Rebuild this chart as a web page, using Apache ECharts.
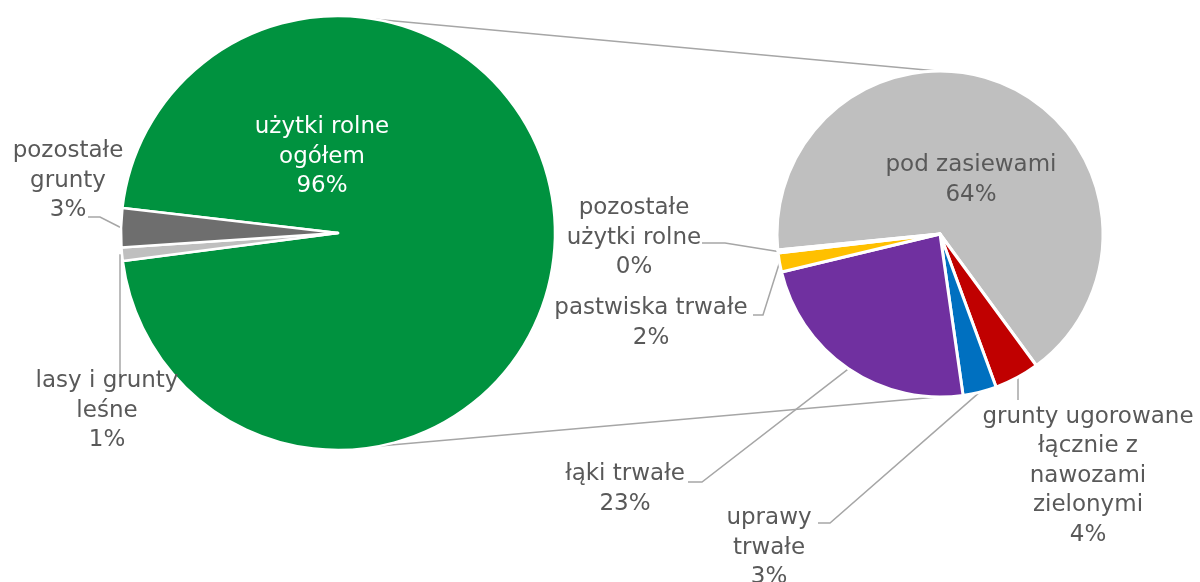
<!DOCTYPE html>
<html>
<head>
<meta charset="utf-8">
<script src="https://cdn.jsdelivr.net/npm/echarts@6/dist/echarts.min.js"></script>
<style>
html,body{margin:0;padding:0;background:#fff;}
#chart{width:1200px;height:582px;}
</style>
</head>
<body>
<div id="chart"></div>
<script>
// ---- data ----
const mainCategories = ['użytki rolne\nogółem', 'lasy i grunty\nleśne', 'pozostałe\ngrunty'];
const mainValues = [96.1, 1.0, 2.9];
const subCategories = ['pod zasiewami', 'grunty ugorowane\nłącznie z\nnawozami\nzielonymi', 'uprawy\ntrwałe', 'łąki trwałe', 'pastwiska trwałe', 'pozostałe\nużytki rolne'];
const subValues = [63.9, 4.3, 3.2, 22.6, 1.8, 0.3];

// ---- styling / layout ----
const mainColors = ['#00923f', '#bfbfbf', '#6e6e6e'];
const subColors = ['#bfbfbf', '#c00000', '#0070c0', '#7030a0', '#ffc000', '#a5a5a5'];
const C1 = [338, 233], R1 = 217;
const C2 = [940, 234], R2 = 163;
const FONT = 'DejaVu Sans';
const TXT = '#595959';
const LINE = '#a6a6a6';

// label block centres and leader-line tail points
const mainLabelPos = [
  {x: 322, y: 157, inside: true},
  {x: 107, y: 411, vertical: 120, line: [[120, 377]]},
  {x: 68, y: 181, line: [[100, 217], [88, 217]]}
];
const subLabelPos = [
  {x: 971, y: 180, inside: true},
  {x: 1088, y: 476, vertical: 1018, line: [[1018, 400]]},
  {x: 769, y: 548, line: [[830, 523], [818, 523]]},
  {x: 625, y: 489, line: [[702, 482], [688, 482]]},
  {x: 651, y: 323, line: [[763, 315], [753, 315]]},
  {x: 634, y: 238, line: [[725, 243], [702, 243]]}
];

function pct(v) { return Math.round(v) + '%'; }

function makeData(cats, vals, colors, pos, insideColor) {
  return cats.map(function (c, i) {
    const inside = pos[i].inside;
    return {
      name: c,
      value: vals[i],
      itemStyle: {color: colors[i]},
      label: {
        position: inside ? 'inside' : 'outside',
        color: inside ? insideColor : TXT
      },
      labelLine: {show: !inside}
    };
  });
}

function edgePoint(c, r, vals, startAngle, idx) {
  const total = vals.reduce(function (a, b) { return a + b; }, 0);
  let acc = 0;
  for (let i = 0; i < idx; i++) acc += vals[i];
  const mid = startAngle - (acc + vals[idx] / 2) / total * 360;
  const rad = mid * Math.PI / 180;
  return [c[0] + r * Math.cos(rad), c[1] - r * Math.sin(rad)];
}

function makeLayout(pos, c, r, vals, startAngle) {
  return function (params) {
    const p = pos[params.dataIndex];
    const out = {x: p.x, y: p.y, align: 'center', verticalAlign: 'middle'};
    if (p.line) {
      let e = (params.labelLinePoints && params.labelLinePoints[0]) || edgePoint(c, r, vals, startAngle, params.dataIndex);
      if (p.vertical !== undefined) {
        const dx = p.vertical - c[0];
        if (Math.abs(dx) < r - 1) {
          const dy = Math.sqrt((r - 1) * (r - 1) - dx * dx);
          e = [p.vertical, e[1] > c[1] ? c[1] + dy : c[1] - dy];
        } else {
          e = [p.vertical, e[1]];
        }
      }
      out.labelLinePoints = [e].concat(p.line);
    }
    return out;
  };
}

const START1 = 173.4, START2 = 185.6;

const chart = echarts.init(document.getElementById('chart'), null, {renderer: 'canvas'});

function connector(a1, a2) {
  const r1 = a1 * Math.PI / 180, r2 = a2 * Math.PI / 180;
  return {
    type: 'line',
    z: 0,
    shape: {
      x1: C1[0] + R1 * Math.cos(r1), y1: C1[1] - R1 * Math.sin(r1),
      x2: C2[0] + R2 * Math.cos(r2), y2: C2[1] - R2 * Math.sin(r2)
    },
    style: {stroke: LINE, lineWidth: 1.5}
  };
}

const labelCommon = {
  show: true,
  fontFamily: FONT,
  fontSize: 23,
  lineHeight: 29.5,
  align: 'center',
  formatter: function (p) { return p.name + '\n' + pct(p.value); }
};

chart.setOption({
  animation: false,
  backgroundColor: '#ffffff',
  graphic: [connector(80, 91), connector(-79, -91)],
  series: [
    {
      type: 'pie',
      center: C1,
      radius: R1,
      startAngle: START1,
      clockwise: true,
      avoidLabelOverlap: false,
      itemStyle: {borderColor: '#ffffff', borderWidth: 2.5},
      label: labelCommon,
      labelLine: {lineStyle: {color: LINE, width: 1.5}, length: 10, length2: 10},
      labelLayout: makeLayout(mainLabelPos, C1, R1, mainValues, START1),
      emphasis: {disabled: true},
      data: makeData(mainCategories, mainValues, mainColors, mainLabelPos, '#ffffff')
    },
    {
      type: 'pie',
      center: C2,
      radius: R2,
      startAngle: START2,
      clockwise: true,
      avoidLabelOverlap: false,
      itemStyle: {borderColor: '#ffffff', borderWidth: 3},
      label: labelCommon,
      labelLine: {lineStyle: {color: LINE, width: 1.5}, length: 10, length2: 10},
      labelLayout: makeLayout(subLabelPos, C2, R2, subValues, START2),
      emphasis: {disabled: true},
      data: makeData(subCategories, subValues, subColors, subLabelPos, TXT)
    }
  ]
});
</script>
</body>
</html>
